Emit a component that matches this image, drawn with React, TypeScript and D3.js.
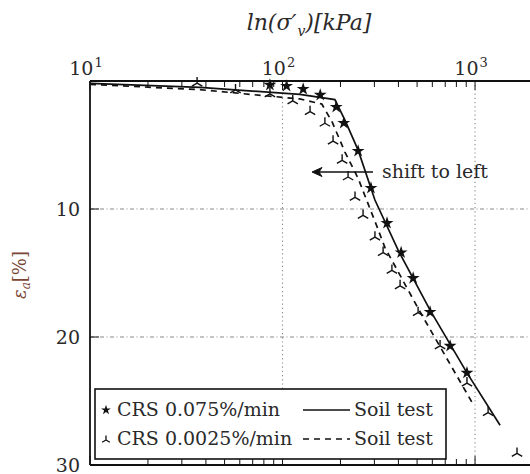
import React from "react";
import * as d3 from "d3";

// stress in kPa, axial strain in %
const starStress = [86, 105, 128, 157, 190, 208, 247, 288, 349, 413, 477, 584, 742, 908];
const starStrain = [0.31, 0.39, 0.63, 1.09, 2.03, 3.28, 5.47, 8.36, 11.1, 13.4, 15.4, 18.05, 20.7, 22.8];

const triStress = [36, 57, 86, 113, 139, 166, 183, 204, 219, 238, 262, 302, 333, 370, 408, 506, 658, 908, 1169, 1652];
const triStrain = [0.16, 0.7, 1.0, 1.56, 2.4, 3.3, 4.7, 6.2, 7.5, 9.1, 10.5, 12.2, 13.4, 14.8, 16.0, 18.1, 20.7, 23.6, 25.9, 29.1];

const fastStress = [10, 37.3, 123, 187, 211, 247, 302, 398, 584, 908, 1349];
const fastStrain = [0.18, 0.5, 1.05, 1.45, 3.05, 5.4, 9.3, 13.2, 17.9, 22.8, 26.9];

const slowStress = [10, 37.3, 123, 160, 181, 211, 247, 310, 340, 512, 964];
const slowStrain = [0.26, 0.68, 1.4, 1.8, 3.2, 5.55, 7.6, 11.4, 13.0, 17.9, 25.1];

const xMajor = [10, 100, 1000];
const xExp = ["1", "2", "3"];
const yTicks = [10, 20, 30];
const legendLabels = ["CRS 0.075%/min", "CRS 0.0025%/min"];

const W = 530;
const H = 474;
const FONT = "'DejaVu Serif', 'Liberation Serif', serif";
const INK = "#2a2a2a";

const x = d3.scaleLog().domain([10, 2000]).range([90, 533]);
const y = d3.scaleLinear().domain([0, 30]).range([81, 465]);

const minorTicks: number[] = [];
[10, 100, 1000].forEach((dec) => {
  for (let k = 2; k <= 9; k++) if (dec * k <= 2000) minorTicks.push(dec * k);
});

const line = d3
  .line<[number, number]>()
  .x((d) => x(d[0]))
  .y((d) => y(d[1]));

const starPath = d3.symbol(d3.symbolStar, 52)()!;
const triPath = (r: number) => {
  const c = Math.cos(Math.PI / 6) * r;
  const s = Math.sin(Math.PI / 6) * r;
  return `M0,0L0,${-r}M0,0L${-c},${s}M0,0L${c},${s}`;
};

export default function App() {
  const fast = fastStress.map((v, i) => [v, fastStrain[i]] as [number, number]);
  const slow = slowStress.map((v, i) => [v, slowStrain[i]] as [number, number]);
  const top = y(0);
  const bottom = y(30);
  const left = x(10);
  const right = x(2000);

  return (
    <svg
      width={W}
      height={H}
      style={{ position: "absolute", left: 0, top: 0, background: "#fff" }}
      fontFamily={FONT}
    >
      {/* grid */}
      {[10, 20].map((t) => (
        <line key={"gy" + t} x1={left} x2={right} y1={y(t)} y2={y(t)} stroke="#8a8a8a" strokeWidth={1.1} strokeDasharray="4,2.5,1,2.5" />
      ))}
      {[100, 1000].map((t) => (
        <line key={"gx" + t} x1={x(t)} x2={x(t)} y1={top} y2={bottom} stroke="#8a8a8a" strokeWidth={1.1} strokeDasharray="1.2,3" />
      ))}

      {/* curves */}
      <path d={line(fast)!} fill="none" stroke="#111" strokeWidth={1.7} />
      <path d={line(slow)!} fill="none" stroke="#111" strokeWidth={1.7} strokeDasharray="6,5" />

      {/* markers */}
      {starStress.map((v, i) => (
        <path key={"s" + i} d={starPath} transform={`translate(${x(v)},${y(starStrain[i])})`} fill="#111" />
      ))}
      {triStress.map((v, i) => (
        <path key={"t" + i} d={triPath(6)} transform={`translate(${x(v)},${y(triStrain[i])})`} fill="none" stroke="#111" strokeWidth={1.4} />
      ))}

      {/* axis frame */}
      <line x1={left} x2={right} y1={top} y2={top} stroke="#111" strokeWidth={1.8} />
      <line x1={left} x2={right} y1={bottom} y2={bottom} stroke="#111" strokeWidth={1.8} />
      <line x1={left} x2={left} y1={top} y2={bottom} stroke="#111" strokeWidth={1.8} />
      {minorTicks.map((t) => (
        <g key={"m" + t}>
          <line x1={x(t)} x2={x(t)} y1={top} y2={top + 6} stroke="#111" strokeWidth={1} />
          <line x1={x(t)} x2={x(t)} y1={bottom} y2={bottom - 6} stroke="#111" strokeWidth={1} />
        </g>
      ))}
      {xMajor.map((t) => (
        <g key={"M" + t}>
          <line x1={x(t)} x2={x(t)} y1={top} y2={top + 9} stroke="#111" strokeWidth={1} />
          <line x1={x(t)} x2={x(t)} y1={bottom} y2={bottom - 9} stroke="#111" strokeWidth={1} />
        </g>
      ))}
      {yTicks.map((t) => (
        <line key={"yt" + t} x1={left} x2={left + 9} y1={y(t)} y2={y(t)} stroke="#111" strokeWidth={1} />
      ))}

      {/* tick labels */}
      {xMajor.map((t, i) => (
        <text key={"xl" + t} x={x(t) - 4} y={75} textAnchor="middle" fontSize={19} fill={INK}>
          10
          <tspan dx={1} dy={-8} fontSize={13}>{xExp[i]}</tspan>
        </text>
      ))}
      {yTicks.map((t) => (
        <text key={"yl" + t} x={80} y={Math.min(y(t) + 7, 472)} textAnchor="end" fontSize={19} fill={INK}>
          {t}
        </text>
      ))}

      {/* axis titles */}
      <text x={309} y={30} textAnchor="middle" fontSize={22} fontStyle="italic" fill={INK}>
        ln(σ′<tspan dx={1} dy={6} fontSize={14}>v</tspan>
        <tspan dy={-6}>)[kPa]</tspan>
      </text>
      <text transform="translate(26,275) rotate(-90)" textAnchor="middle" fontSize={18} fill="#7a4636">
        <tspan fontStyle="italic">ε</tspan>
        <tspan dy={4} fontSize={12} fontStyle="italic">a</tspan>
        <tspan dy={-4}>[%]</tspan>
      </text>

      {/* annotation */}
      <line x1={373} x2={316} y1={172} y2={172} stroke="#111" strokeWidth={1.6} />
      <path d="M312,172 L322,167.5 L319,172 L322,176.5 Z" fill="#111" stroke="#111" strokeWidth={1} />
      <text x={382} y={178} fontSize={19} fill={INK}>shift to left</text>

      {/* legend */}
      <rect x={95} y={389} width={351} height={70} fill="#fff" stroke="#111" strokeWidth={1.6} />
      {legendLabels.map((lab, i) => {
        const cy = 410 + i * 29;
        return (
          <g key={"lg" + i}>
            {i === 0 ? (
              <path d={d3.symbol(d3.symbolStar, 30)()!} transform={`translate(106,${cy})`} fill="#111" />
            ) : (
              <path d={triPath(4.5)} transform={`translate(106,${cy + 1})`} fill="none" stroke="#111" strokeWidth={1.3} />
            )}
            <text x={117} y={cy + 6} fontSize={19} fill={INK}>{lab}</text>
            <line x1={303} x2={350} y1={cy} y2={cy} stroke="#111" strokeWidth={1.6} strokeDasharray={i === 0 ? undefined : "6,5"} />
            <text x={354} y={cy + 6} fontSize={19} fill={INK}>Soil test</text>
          </g>
        );
      })}
    </svg>
  );
}
